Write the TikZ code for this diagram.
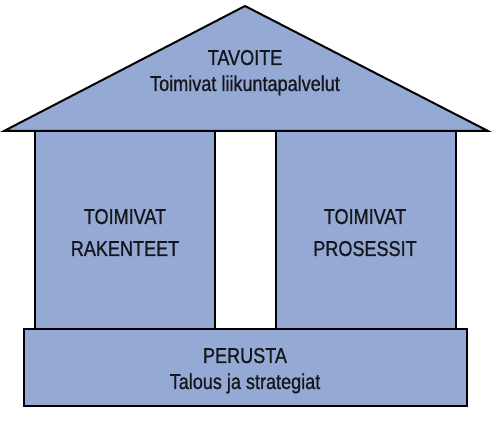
\documentclass[tikz,border=0pt]{standalone}
\usepackage{fontspec}
\setmainfont{Liberation Sans}[FakeStretch=0.84,FakeBold=0.8]
\definecolor{housefill}{HTML}{94A9D3}
\definecolor{textcol}{HTML}{15161C}
\begin{document}
\begin{tikzpicture}[x=1pt,y=-1pt,
  part/.style={draw=black,line width=2pt,fill=housefill,line join=miter},
  lbl/.style={anchor=base,inner sep=0pt,text=textcol,font=\fontsize{21.5}{26}\selectfont}]
\useasboundingbox (0,0) rectangle (496,427);
% columns
\draw[part] (35,131) rectangle (215,329);
\draw[part] (276,131) rectangle (456,329);
% roof
\draw[part] (4,131) -- (245,6) -- (488,131) -- cycle;
% base
\draw[part] (24,329) rectangle (467,406);
% texts
\node[lbl] (t1) at (245,65) {TAVOITE};
\node[lbl] (t2) at (245,91) {Toimivat liikuntapalvelut};
\node[lbl] (l1) at (125,224) {TOIMIVAT};
\node[lbl] (l2) at (125,256) {RAKENTEET};
\node[lbl] (r1) at (365,224) {TOIMIVAT};
\node[lbl] (r2) at (365,256) {PROSESSIT};
\node[lbl] (b1) at (245,363) {PERUSTA};
\node[lbl] (b2) at (245,389) {Talous ja strategiat};
\end{tikzpicture}
\end{document}
